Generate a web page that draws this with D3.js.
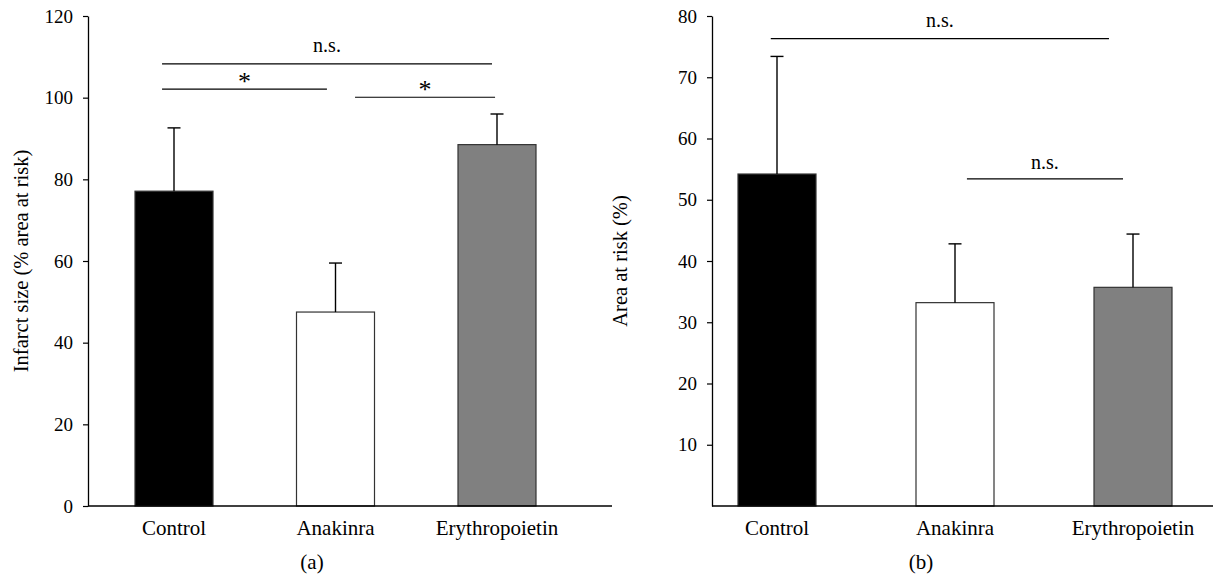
<!DOCTYPE html>
<html>
<head>
<meta charset="utf-8">
<script src="https://cdn.jsdelivr.net/npm/d3@7/dist/d3.min.js"></script>
<style>
	body { margin: 0; background: #fff; }
	text { font-family: "Liberation Serif", "DejaVu Serif", serif; fill: #000; }
</style>
</head>
<body>
<div id="chart"></div>
<script>
var categories = ["Control", "Anakinra", "Erythropoietin"];
var barFills = ["#000000", "#ffffff", "#808080"];

//panel (a)
var infarctMeans = [77.1, 47.5, 88.5];
var infarctErrors = [15.5, 12.0, 7.5];
var infarctTicks = [0, 20, 40, 60, 80, 100, 120];

//panel (b)
var areaMeans = [54.2, 33.2, 35.7];
var areaErrors = [19.2, 9.6, 8.7];
var areaTicks = [10, 20, 30, 40, 50, 60, 70, 80];

//significance lines: from/to in category index units, height in axis units
var infarctSig = [
	{ from: -0.074, to: 1.969, level: 108.3, label: "n.s.", gap: 12 },
	{ from: -0.074, to: 0.947, level: 102.1, label: "*", gap: -1 },
	{ from: 1.121, to: 1.988, level: 100.1, label: "*", gap: -1 }
];
var areaSig = [
	{ from: -0.035, to: 1.865, level: 76.3, label: "n.s.", gap: 12 },
	{ from: 1.067, to: 1.944, level: 53.4, label: "n.s.", gap: 10 }
];

var width = 1213;
var height = 581;

var svg = d3.select("#chart")
			.append("svg")
			.attr("width", width)
			.attr("height", height);

function drawPanel(opt) {
	var g = svg.append("g");
	var y = d3.scaleLinear().domain([0, opt.max]).range([506, 16]);
	var x = d3.scalePoint().domain(categories).range([opt.first, opt.last]);
	var xi = d3.scaleLinear().domain([0, categories.length - 1]).range([opt.first, opt.last]);
	var barWidth = 78;

	//y axis
	var yAxis = d3.axisLeft(y)
				.tickValues(opt.ticks)
				.tickSize(5)
				.tickSizeOuter(0)
				.tickPadding(10);
	var ya = g.append("g")
			.attr("transform", "translate(" + opt.left + ",0)")
			.call(yAxis);
	ya.select(".domain").attr("stroke", "#000").attr("stroke-width", 1.3);
	ya.selectAll(".tick line").attr("stroke", "#000").attr("stroke-width", 1.2);
	ya.selectAll(".tick text")
		.attr("font-size", "19px")
		.attr("fill", "#000");

	//bars
	g.selectAll("rect.bar")
		.data(opt.means)
		.enter()
		.append("rect")
		.attr("class", "bar")
		.attr("x", function(d, i) { return x(categories[i]) - barWidth / 2; })
		.attr("y", function(d) { return y(d); })
		.attr("width", barWidth)
		.attr("height", function(d) { return y(0) - y(d); })
		.attr("fill", function(d, i) { return barFills[i]; })
		.attr("stroke", "#333")
		.attr("stroke-width", 1.2);

	//error bars (upper only)
	g.selectAll("line.err")
		.data(opt.means)
		.enter()
		.append("line")
		.attr("class", "err")
		.attr("x1", function(d, i) { return x(categories[i]); })
		.attr("x2", function(d, i) { return x(categories[i]); })
		.attr("y1", function(d) { return y(d); })
		.attr("y2", function(d, i) { return y(d + opt.errors[i]); })
		.attr("stroke", "#000")
		.attr("stroke-width", 1.4);
	g.selectAll("line.cap")
		.data(opt.means)
		.enter()
		.append("line")
		.attr("class", "cap")
		.attr("x1", function(d, i) { return x(categories[i]) - 6.5; })
		.attr("x2", function(d, i) { return x(categories[i]) + 6.5; })
		.attr("y1", function(d, i) { return y(d + opt.errors[i]); })
		.attr("y2", function(d, i) { return y(d + opt.errors[i]); })
		.attr("stroke", "#000")
		.attr("stroke-width", 1.4);

	//x axis line
	g.append("line")
		.attr("x1", opt.left)
		.attr("x2", opt.right)
		.attr("y1", y(0))
		.attr("y2", y(0))
		.attr("stroke", "#000")
		.attr("stroke-width", 1.3);

	//category labels
	g.selectAll("text.cat")
		.data(categories)
		.enter()
		.append("text")
		.attr("class", "cat")
		.attr("x", function(d) { return x(d); })
		.attr("y", 535)
		.attr("text-anchor", "middle")
		.attr("font-size", "21px")
		.text(function(d) { return d; });

	//significance
	g.selectAll("line.sig")
		.data(opt.sig)
		.enter()
		.append("line")
		.attr("class", "sig")
		.attr("x1", function(d) { return xi(d.from); })
		.attr("x2", function(d) { return xi(d.to); })
		.attr("y1", function(d) { return y(d.level); })
		.attr("y2", function(d) { return y(d.level); })
		.attr("stroke", "#000")
		.attr("stroke-width", 1.2);
	g.selectAll("text.sig")
		.data(opt.sig)
		.enter()
		.append("text")
		.attr("class", "sig")
		.attr("x", function(d) { return (xi(d.from) + xi(d.to)) / 2; })
		.attr("y", function(d) { return y(d.level) - d.gap; })
		.attr("text-anchor", "middle")
		.attr("font-size", function(d) { return d.label == "*" ? "26px" : "20px"; })
		.text(function(d) { return d.label; });

	//y title
	g.append("text")
		.attr("transform", "translate(" + opt.titleX + "," + (y(0) + y(opt.max)) / 2 + ") rotate(-90)")
		.attr("text-anchor", "middle")
		.attr("font-size", "20.5px")
		.text(opt.title);

	//panel letter
	g.append("text")
		.attr("x", opt.letterX)
		.attr("y", 569)
		.attr("text-anchor", "middle")
		.attr("font-size", "21px")
		.text(opt.letter);
}

drawPanel({
	means: infarctMeans, errors: infarctErrors, ticks: infarctTicks, sig: infarctSig,
	max: 120, left: 88, right: 612, first: 174, last: 497,
	title: "Infarct size (% area at risk)", titleX: 28, letter: "(a)", letterX: 312
});
drawPanel({
	means: areaMeans, errors: areaErrors, ticks: areaTicks, sig: areaSig,
	max: 80, left: 712, right: 1213, first: 777, last: 1133,
	title: "Area at risk (%)", titleX: 627, letter: "(b)", letterX: 921
});
</script>
</body>
</html>
